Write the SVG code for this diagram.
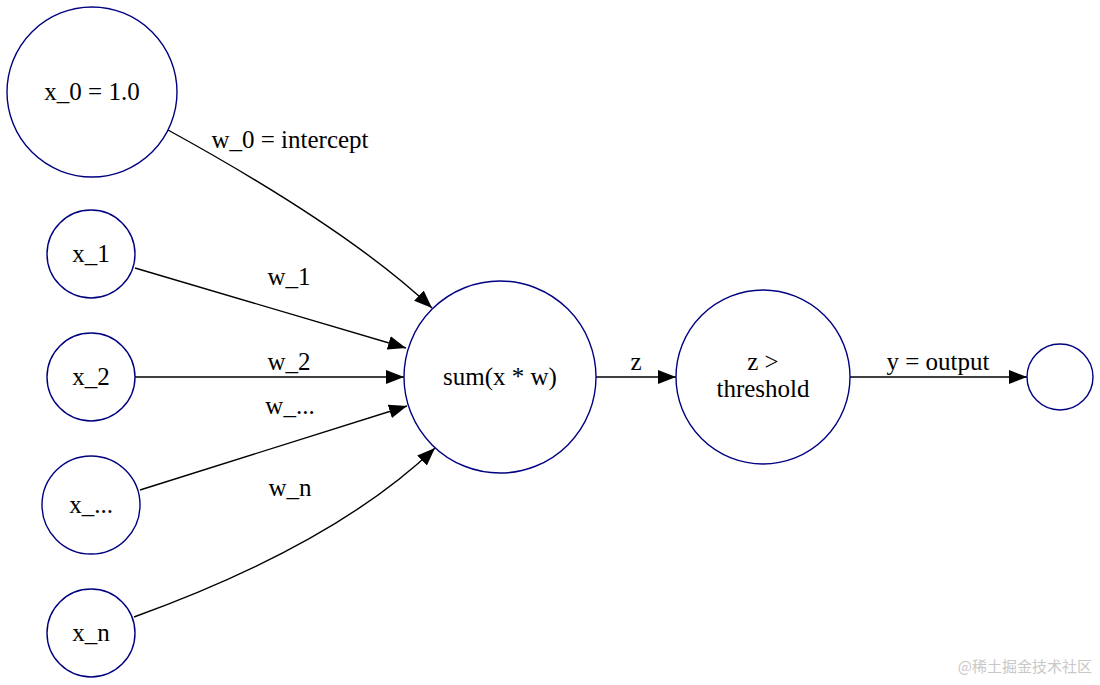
<svg xmlns="http://www.w3.org/2000/svg" width="1100" height="685" viewBox="0 0 1100 685">
<style>
.n{fill:#fff;stroke:#000080;stroke-width:1.4}
.t{font-family:"Liberation Serif",serif;font-size:25px;fill:#000;text-anchor:middle}
.e{fill:none;stroke:#000;stroke-width:1.4}
</style>
<defs><marker id="a" markerWidth="18" markerHeight="14" refX="18" refY="7" orient="auto" markerUnits="userSpaceOnUse"><path d="M0,0L18,7L0,14Z" fill="#000"/></marker></defs>
<rect width="1100" height="685" fill="#fff"/>
<g id="edges">
<path class="e" marker-end="url(#a)" d="M168,130 C250,175 360,240 432,308"/>
<path class="e" marker-end="url(#a)" d="M135,268 L406,348"/>
<path class="e" marker-end="url(#a)" d="M135,377 L404,377"/>
<path class="e" marker-end="url(#a)" d="M140,490 L407,406"/>
<path class="e" marker-end="url(#a)" d="M134,617 C250,575 360,520 435,448"/>
<path class="e" marker-end="url(#a)" d="M596,377 L676,377"/>
<path class="e" marker-end="url(#a)" d="M850,377 L1027,377"/>
<text class="t" x="290" y="148">w_0 = intercept</text>
<text class="t" x="289" y="285">w_1</text>
<text class="t" x="289" y="370">w_2</text>
<text class="t" x="290" y="414">w_...</text>
<text class="t" x="290" y="496">w_n</text>
<text class="t" x="636" y="370">z</text>
<text class="t" x="938" y="370">y = output</text>
</g>
<g id="x0"><circle class="n" cx="92" cy="92" r="85"/><text class="t" x="92" y="100">x_0 = 1.0</text></g>
<g id="x1"><circle class="n" cx="91" cy="254" r="44"/><text class="t" x="91" y="262">x_1</text></g>
<g id="x2"><circle class="n" cx="91" cy="377" r="44"/><text class="t" x="91" y="385">x_2</text></g>
<g id="xd"><circle class="n" cx="91" cy="505" r="49"/><text class="t" x="91" y="513">x_...</text></g>
<g id="xn"><circle class="n" cx="91" cy="633" r="44"/><text class="t" x="91" y="641">x_n</text></g>
<g id="sum"><circle class="n" cx="500" cy="377" r="96"/><text class="t" x="500" y="385">sum(x * w)</text></g>
<g id="thr"><circle class="n" cx="763" cy="377" r="87"/><text class="t" x="763" y="370">z &gt;</text><text class="t" x="763" y="397">threshold</text></g>
<g id="out"><circle class="n" cx="1060" cy="377" r="33"/></g>
<text x="1092" y="672" font-family="'Noto Sans CJK SC',sans-serif" font-size="15" fill="#c8c8c8" text-anchor="end">@稀土掘金技术社区</text>
</svg>
